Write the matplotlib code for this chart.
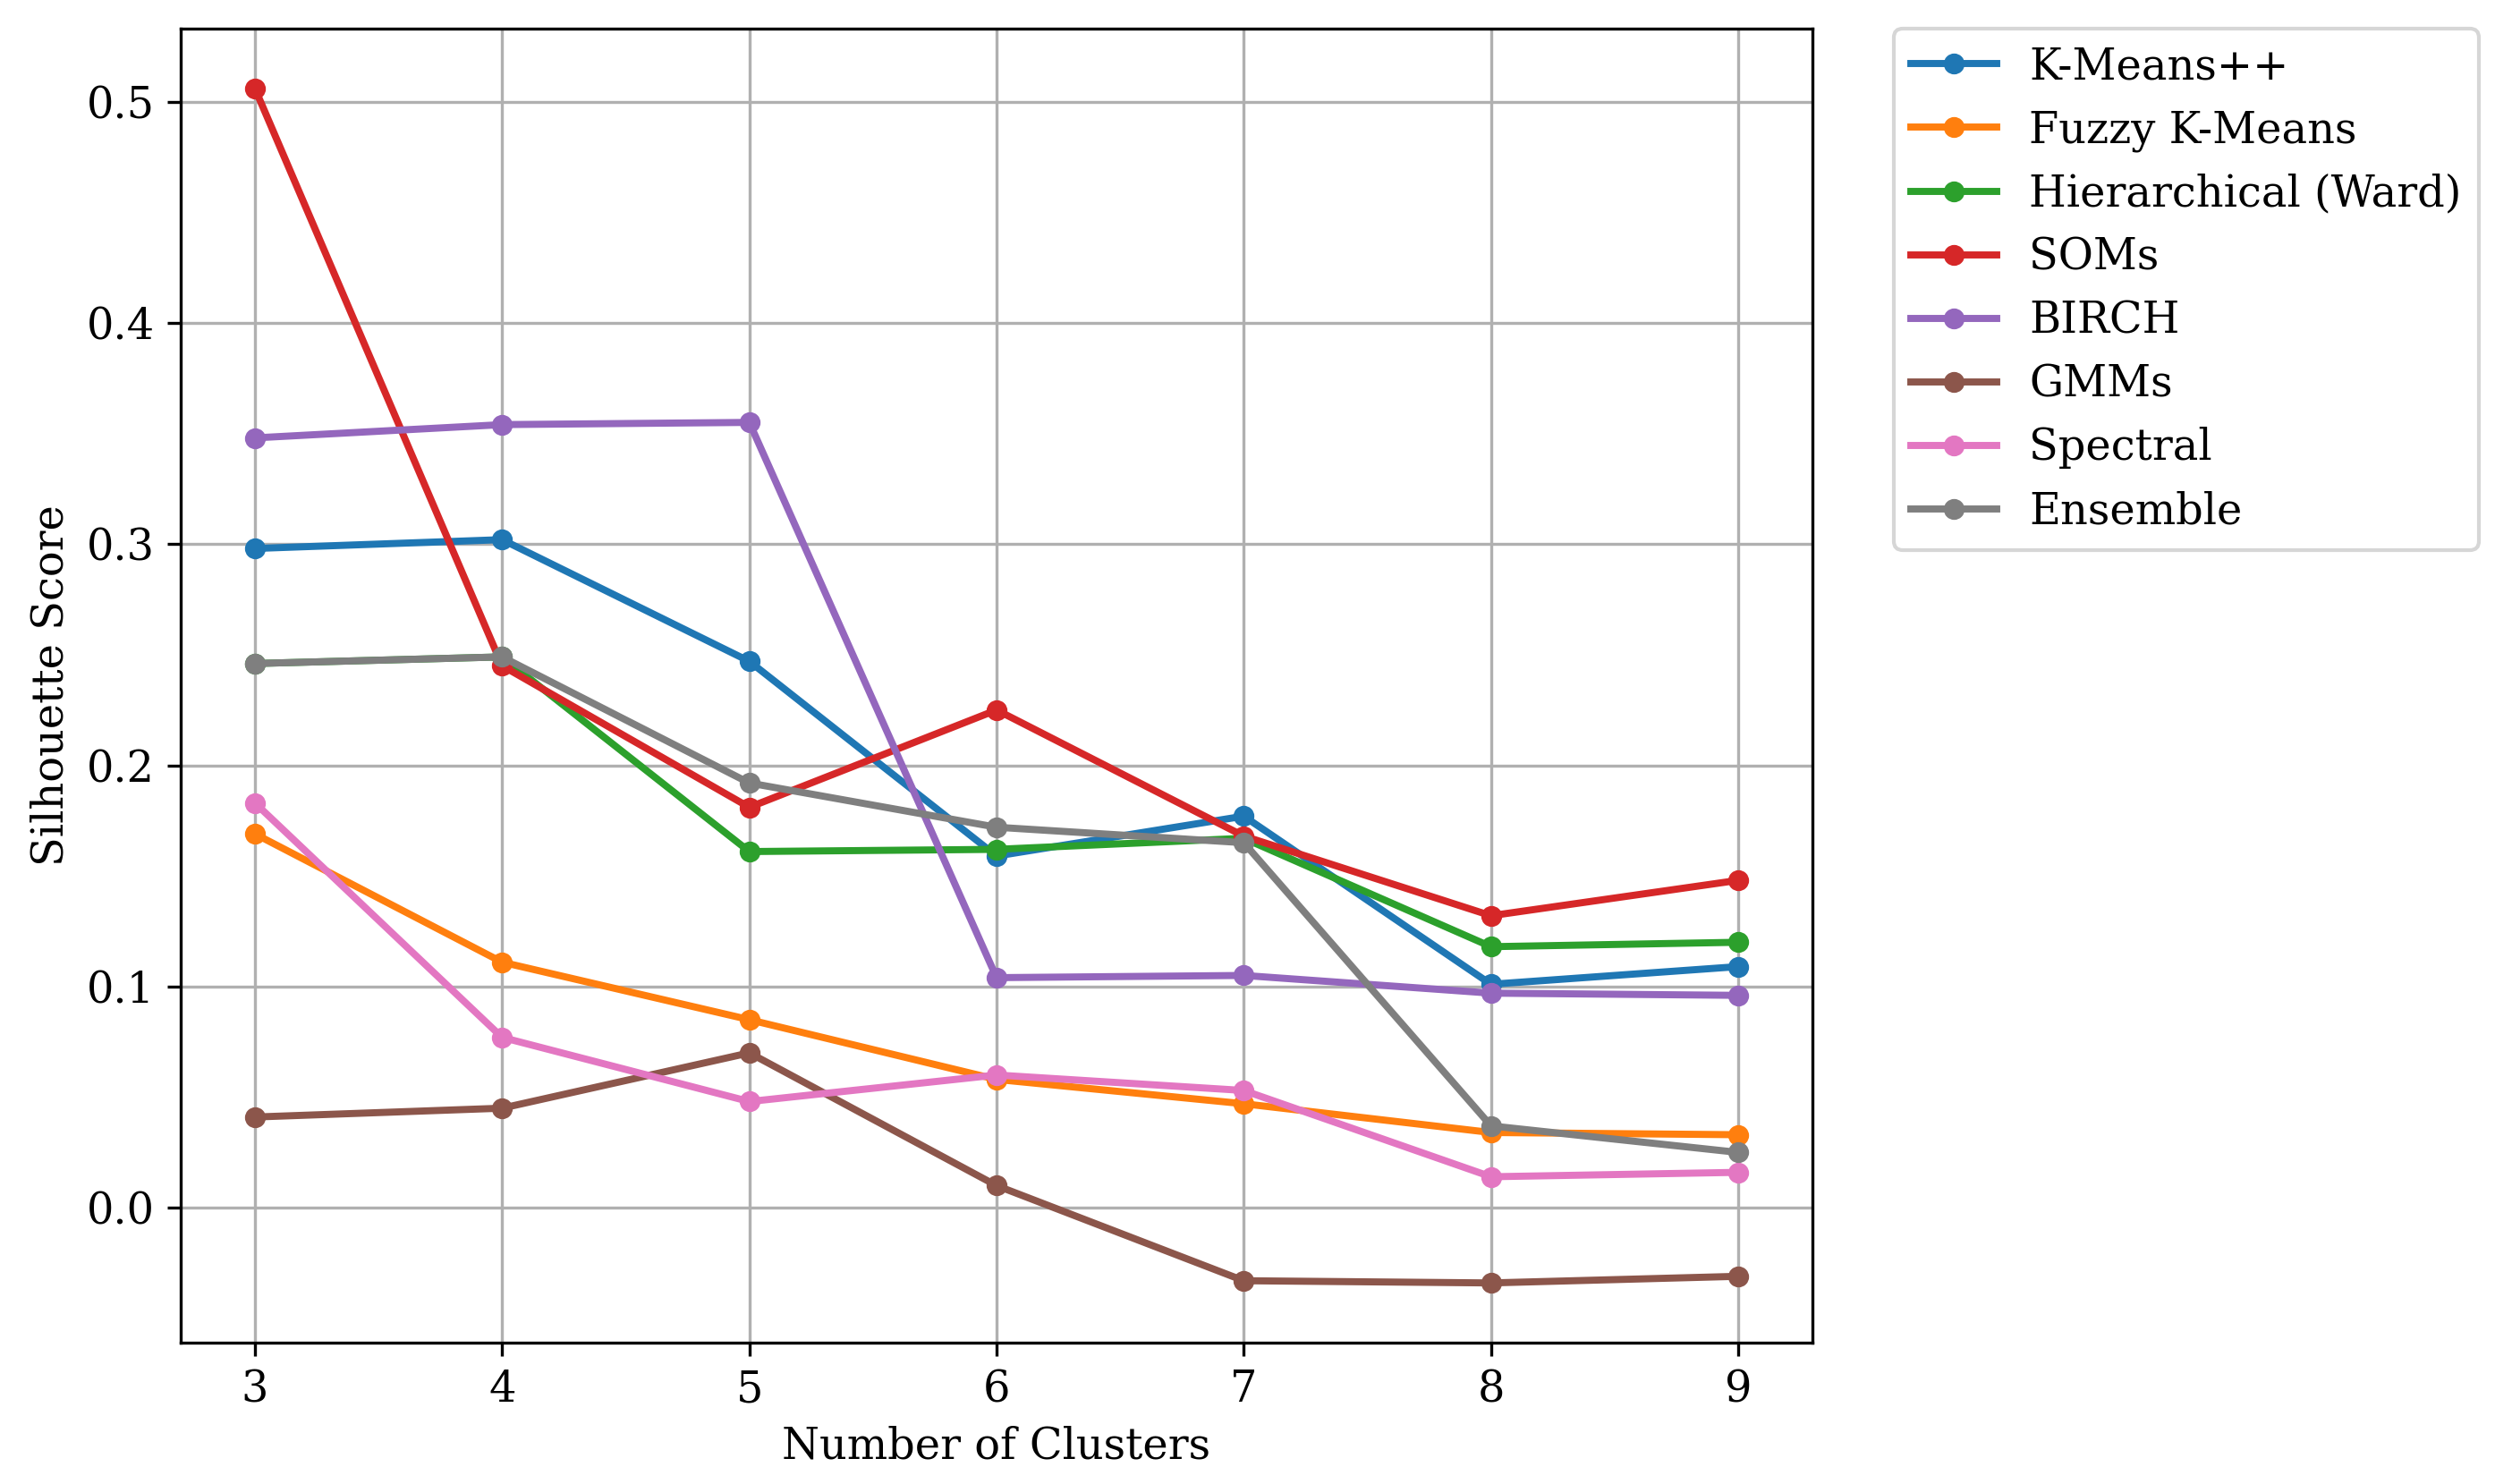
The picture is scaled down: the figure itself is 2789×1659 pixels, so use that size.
import matplotlib
matplotlib.use("Agg")
import matplotlib.pyplot as plt

plt.rcParams['font.family'] = ['DejaVu Serif']
plt.rcParams['font.size'] = 11.5

clusters = [3, 4, 5, 6, 7, 8, 9]
kmeans_pp = [0.298, 0.302, 0.247, 0.159, 0.177, 0.101, 0.109]
fuzzy_kmeans = [0.169, 0.111, 0.085, 0.058, 0.047, 0.034, 0.033]
hierarchical = [0.246, 0.249, 0.161, 0.162, 0.167, 0.118, 0.120]
soms = [0.506, 0.245, 0.181, 0.225, 0.168, 0.132, 0.148]
birch = [0.348, 0.354, 0.355, 0.104, 0.105, 0.097, 0.096]
gmms = [0.041, 0.045, 0.070, 0.010, -0.033, -0.034, -0.031]
spectral = [0.183, 0.077, 0.048, 0.060, 0.053, 0.014, 0.016]
ensemble = [0.246, 0.249, 0.192, 0.172, 0.165, 0.037, 0.025]

series = [
    ("K-Means++", kmeans_pp),
    ("Fuzzy K-Means", fuzzy_kmeans),
    ("Hierarchical (Ward)", hierarchical),
    ("SOMs", soms),
    ("BIRCH", birch),
    ("GMMs", gmms),
    ("Spectral", spectral),
    ("Ensemble", ensemble),
]

W, H = 2789, 1659
fig = plt.figure(figsize=(W / 300, H / 300), dpi=300)
ax = fig.add_axes([202 / W, 1 - 1501 / H, (2026 - 202) / W, (1501 - 32) / H])

for name, vals in series:
    ax.plot(clusters, vals, marker='o', markersize=4.6, linewidth=1.9, label=name)

ax.set_xlabel("Number of Clusters")
ax.set_ylabel("Silhouette Score")
ax.set_xticks(clusters)
ax.grid(True)
ax.legend(bbox_to_anchor=(1.05, 1), loc='upper left', borderaxespad=0.,
          handletextpad=0.75)

fig.savefig("out.png", dpi=300)
